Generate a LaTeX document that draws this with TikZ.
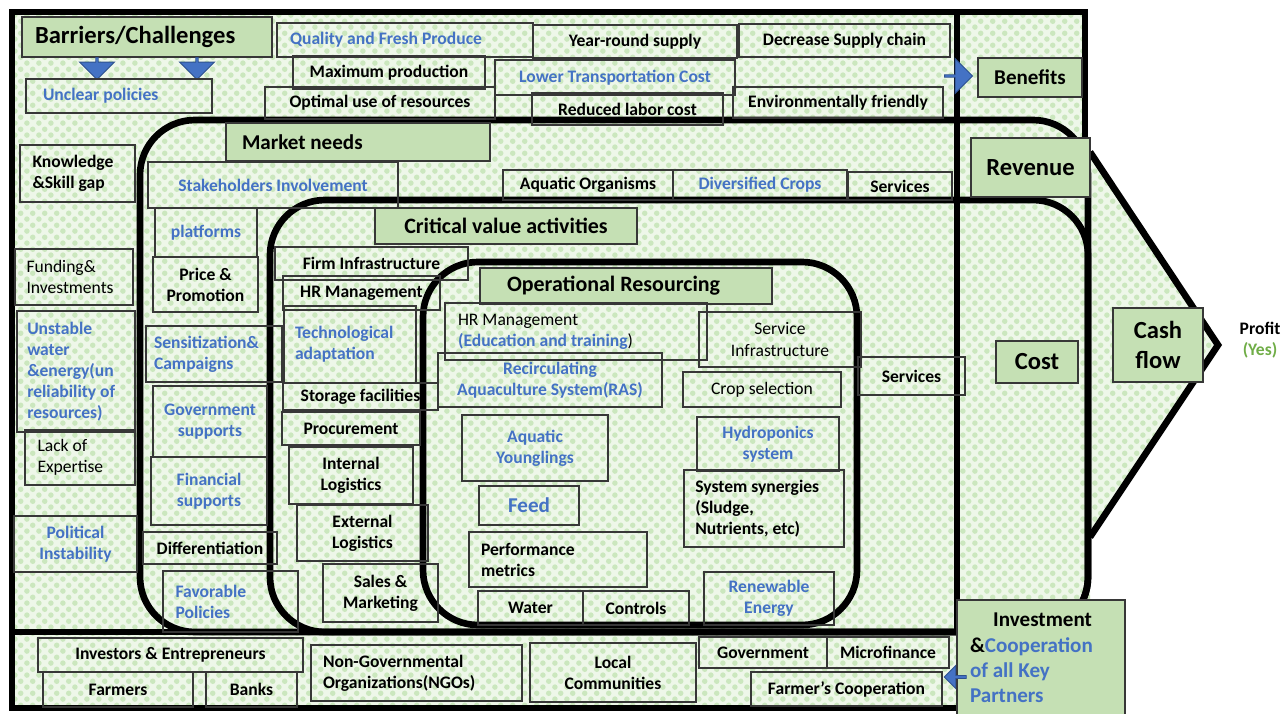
\documentclass[tikz,border=0pt]{standalone}
\usepackage{fontspec}
\setmainfont{Carlito}
\usepackage{tikz}
\usetikzlibrary{shapes.arrows,patterns}
\hyphenpenalty=10000
\exhyphenpenalty=10000
\definecolor{ablue}{RGB}{68,114,196}
\definecolor{aedge}{RGB}{47,82,143}
\definecolor{hgreen}{RGB}{197,224,180}
\definecolor{bggreen}{RGB}{238,247,233}
\definecolor{dotgreen}{RGB}{203,231,190}
\definecolor{ygreen}{RGB}{112,173,71}
\definecolor{edge}{RGB}{55,55,55}
\pgfdeclarepatternformonly{bubbles}{\pgfqpoint{0pt}{0pt}}{\pgfqpoint{7pt}{7pt}}{\pgfqpoint{7pt}{7pt}}{
  \pgfpathcircle{\pgfqpoint{1.75pt}{1.75pt}}{1.65pt}
  \pgfpathcircle{\pgfqpoint{5.25pt}{5.25pt}}{1.65pt}
  \pgfusepath{fill}}
\tikzstyle{cell}=[draw=edge, line width=0.6pt, inner sep=0pt, align=center, font=\fontsize{10}{12}\selectfont\bfseries]
\tikzstyle{bluecell}=[cell, text=ablue]
\tikzstyle{thincell}=[cell, font=\fontsize{10}{12}\selectfont]
\tikzstyle{head}=[cell, fill=hgreen, font=\fontsize{12}{14.5}\selectfont\bfseries]
\tikzstyle{wall}=[line width=3.8pt]
\tikzstyle{barrow}=[single arrow, draw=aedge, fill=ablue, line width=0.5pt, inner sep=0pt, single arrow head extend=0.12cm]
\tikzset{spot/.style args={#1/#2/#3/#4}{at={(#1/2+#3/2,#2/2+#4/2)}, minimum width={(#3-#1)*0.02cm}, minimum height={(#4-#2)*0.02cm}}}

\begin{document}
\begin{tikzpicture}[x=0.02cm, y=-0.02cm]
\useasboundingbox (0,0) rectangle (1283,713);
\path[fill=bggreen, postaction={pattern=bubbles, pattern color=dotgreen}]
  (12,12) -- (1085,12) -- (1085,150) -- (1218,345) -- (1090,537) -- (1090,600)
  -- (957,600) -- (957,708) -- (12,708) -- cycle;
\draw[wall] (1085,150) -- (1085,12) -- (12,12) -- (12,708) -- (957,708);
\draw[wall] (12,632) -- (957,632);
\draw[wall] (957,12) -- (957,632);
\draw[wall, rounded corners=1.1cm] (140,120) rectangle (1088,632);
\draw[wall, rounded corners=1.1cm] (270,200) rectangle (1088,632);
\draw[wall, rounded corners=1.1cm] (423,262) rectangle (857,625);
\draw[wall] (1090,152) -- (1218,345) -- (1090,537);

\node[head, spot=22/17/272/57, align=flush left, text width=4.48cm, font=\fontsize{14}{17}\selectfont\bfseries] (barriers) {Barriers/Challenges};
\node[barrow, rotate=-90, minimum height=0.44cm, minimum width=0.7cm] (arrowa) at (97,68) {};
\node[barrow, rotate=-90, minimum height=0.44cm, minimum width=0.7cm] (arrowb) at (197,68) {};
\node[bluecell, spot=26/79/212/113, align=flush left, text width=3.04cm] (unclear) {Unclear policies};
\node[bluecell, spot=277/23/533/57, align=flush left, text width=4.6cm] (quality) {Quality and Fresh Produce};
\foreach \n/\s/\a/\b/\c/\d/\t in {
  maxprod/cell/293/56/485/89/Maximum production,
  optimal/cell/265/87/495/119/Optimal use of resources,
  yearround/cell/533/25/737/58/Year-round supply,
  supplychain/cell/739/24/950/57/Decrease Supply chain,
  transport/bluecell/495/60/735/95/Lower Transportation Cost,
  labor/cell/532/93/723/125/Reduced labor cost,
  envfriendly/cell/733/87/943/118/Environmentally friendly}
  \node[\s, spot=\a/\b/\c/\d] (\n) {\t};
\node[barrow, minimum height=0.56cm, minimum width=0.7cm] (arrowc) at (958,76) {};
\node[head, spot=978/58/1082/97] (benefits) {Benefits};

\node[cell, spot=20/145/135/202, align=flush left, text width=1.8cm] (knowledge) {Knowledge\\\&Skill gap};
\node[thincell, spot=15/249/133/305, align=flush left, text width=1.9cm] (funding) {Funding\&\\Investments};
\node[bluecell, spot=17/311/135/432, align=flush left, text width=1.95cm] (unstable) {Unstable\\water\\\&energy(un\\reliability of\\resources)};
\node[thincell, spot=25/430/135/485, align=flush left, text width=1.7cm] (expertise) {Lack of\\Expertise};
\node[bluecell, spot=14/516/137/572] (political) {Political\\Instability};

\node[head, spot=226/123/490/161, align=flush left, text width=4.64cm] (marketneeds) {Market needs};
\node[bluecell, spot=148/162/398/208] (stakeholders) {Stakeholders Involvement};
\node[bluecell, spot=155/208/257/257] (platforms) {platforms};
\node[cell, spot=153/257/258/312] (price) {Price \&\\Promotion};
\node[bluecell, spot=146/326/282/382, align=flush left, text width=2.4cm] (sensitization) {Sensitization\&\\Campaigns};
\node[bluecell, spot=153/386/267/457] (govsupport) {Government\\supports};
\node[bluecell, spot=151/457/267/525] (finsupport) {Financial\\supports};
\node[cell, spot=143/532/277/564] (differentiation) {Differentiation};
\node[bluecell, spot=163/571/298/632, align=flush left, text width=2.2cm] (favorable) {Favorable\\Policies};
\foreach \n/\s/\a/\b/\c/\d/\t in {
  aquaorg/cell/503/170/673/200/Aquatic Organisms,
  diversified/bluecell/673/170/847/200/Diversified Crops,
  services/cell/848/172/952/200/Services,
  moreservices/cell/858/357/965/395/Services}
  \node[\s, spot=\a/\b/\c/\d] (\n) {\t};

\node[head, spot=375/208/637/244, font=\fontsize{12.5}{15}\selectfont\bfseries] (cva) {Critical value activities};
\node[cell, spot=275/247/468/280] (firminfra) {Firm Infrastructure};
\node[cell, spot=283/276/440/310] (hrm) {HR Management};
\node[bluecell, spot=284/306/416/383, align=flush left, text width=2.2cm] (techadapt) {Technological\\adaptation};
\node[cell, spot=283/383/438/410] (storage) {Storage facilities};
\node[cell, spot=282/412/420/445] (procurement) {Procurement};
\node[cell, spot=289/447/413/504] (intlog) {Internal\\Logistics};
\node[cell, spot=297/505/428/561] (extlog) {External\\Logistics};
\node[cell, spot=323/564/438/622] (sales) {Sales \&\\Marketing};

\node[head, spot=480/268/772/304, align=flush left, text width=4.76cm, font=\fontsize{12.5}{15}\selectfont\bfseries] (opres) {Operational Resourcing};
\node[thincell, spot=445/303/707/360, align=flush left, text width=4.72cm] (hredu) {HR Management\\\textbf{\textcolor{ablue}{(Education and training}})};
\node[thincell, spot=699/312/861/367] (serviceinfra) {Service\\Infrastructure};
\node[bluecell, spot=438/353/662/407] (ras) {Recirculating\\Aquaculture System(RAS)};
\node[thincell, spot=683/372/841/407] (cropsel) {Crop selection};
\node[bluecell, spot=462/415/608/481] (younglings) {Aquatic\\Younglings};
\node[bluecell, spot=697/417/839/471] (hydroponics) {Hydroponics\\system};
\node[cell, spot=684/470/844/547, align=flush left, text width=2.75cm] (synergies) {System synergies\\(Sludge,\\Nutrients, etc)};
\node[bluecell, spot=479/486/579/525, font=\fontsize{12}{14}\selectfont\bfseries] (feed) {Feed};
\node[cell, spot=469/532/647/587, align=flush left, text width=3.08cm] (performance) {Performance\\metrics};
\node[cell, spot=478/591/583/625] (water) {Water};
\node[cell, spot=583/591/689/625] (controls) {Controls};
\node[bluecell, spot=704/572/834/625] (renewable) {Renewable\\Energy};

\node[head, spot=971/138/1090/197, font=\fontsize{14}{17}\selectfont\bfseries] (revenue) {Revenue};
\node[head, spot=996/341/1078/383, font=\fontsize{14}{17}\selectfont\bfseries] (cost) {Cost};
\node[head, spot=1113/308/1203/382, font=\fontsize{14}{17}\selectfont\bfseries] (cashflow) {Cash\\flow};
\node[font=\fontsize{10}{12}\selectfont\bfseries, align=center] (profit) at (1260,340) {Profit\\\textcolor{ygreen}{(Yes)}};

\foreach \n/\a/\b/\c/\d/\t in {
  investors/38/638/303/672/Investors \& Entrepreneurs,
  farmers/43/672/193/707/Farmers,
  banks/206/672/297/707/Banks,
  government/699/637/827/668/Government,
  microfinance/827/637/949/668/Microfinance,
  farmercoop/751/672/942/706/Farmer’s Cooperation}
  \node[cell, spot=\a/\b/\c/\d] (\n) {\t};
\node[cell, spot=311/645/522/701, align=flush left, text width=3.74cm] (ngos) {Non-Governmental\\Organizations(NGOs)};
\node[cell, spot=530/643/696/702] (local) {Local\\Communities};
\node[head, spot=957/600/1125/716, align=flush left, text width=2.84cm] (investment) {\hspace*{1.1em}Investment\\\&\textcolor{ablue}{Cooperation}\\\textcolor{ablue}{of all Key}\\\textcolor{ablue}{Partners}};
\node[barrow, rotate=180, minimum height=0.44cm, minimum width=0.46cm, single arrow head extend=0.06cm] (arrowd) at (956,677) {};
\end{tikzpicture}
\end{document}
